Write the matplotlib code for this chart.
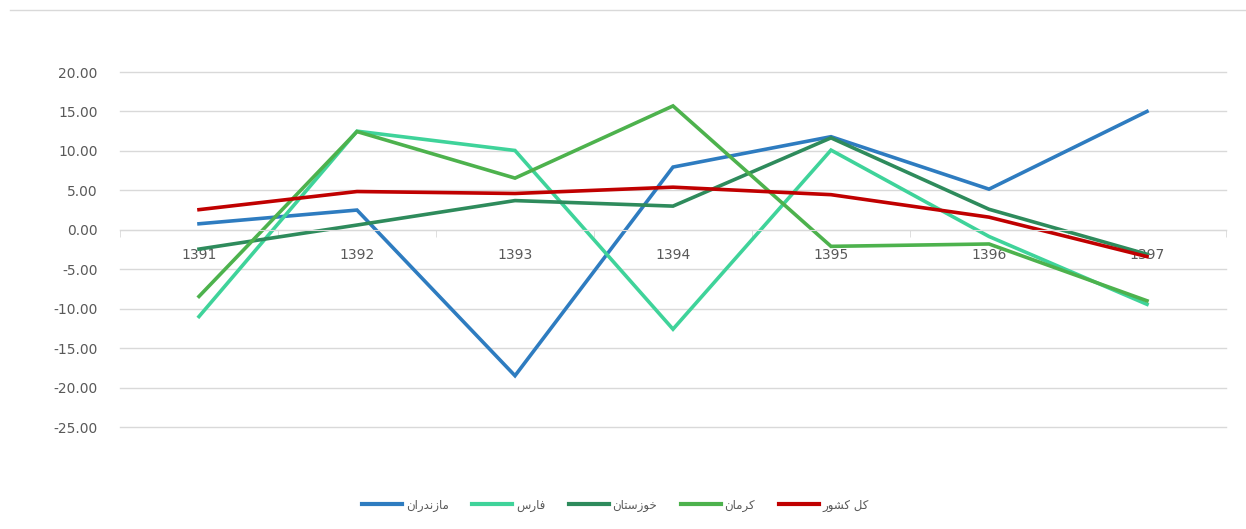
import matplotlib.pyplot as plt
from matplotlib.lines import Line2D

# years on the category axis
years = ["1391", "1392", "1393", "1394", "1395", "1396", "1397"]

# Persian series names, stored as pre-shaped glyphs in visual (left-to-right) order
# since matplotlib does no Arabic shaping / bidi
name_mazandaran = "\uFEE5\uFE8D\uFEAD\uFEAA\uFEE7\uFEAF\uFE8E\uFEE3"   # مازندران
name_fars = "\uFEB1\uFEAD\uFE8E\uFED3"                                # فارس
name_khuzestan = "\uFEE5\uFE8E\uFE98\uFEB3\uFEAF\uFEEE\uFEA7"         # خوزستان
name_kerman = "\uFEE5\uFE8E\uFEE3\uFEAE\uFEDB"                        # کرمان
name_total = "\uFEAD\uFEEE\uFEB8\uFEDB \uFEDE\uFEDB"                  # کل کشور

mazandaran = [0.76, 2.5, -18.5, 7.95, 11.8, 5.15, 15.0]
fars = [-11.0, 12.5, 10.05, -12.6, 10.1, -0.85, -9.45]
khuzestan = [-2.45, 0.6, 3.7, 3.0, 11.65, 2.6, -3.1]
kerman = [-8.45, 12.45, 6.55, 15.7, -2.1, -1.8, -9.0]
total = [2.55, 4.85, 4.6, 5.4, 4.45, 1.6, -3.4]

series = [
    (name_mazandaran, mazandaran, "#2E7CC0"),
    (name_fars, fars, "#3FD39A"),
    (name_khuzestan, khuzestan, "#2E8B5C"),
    (name_kerman, kerman, "#4DB24D"),
    (name_total, total, "#C00000"),
]

grid_col = "#D9D9D9"
text_col = "#595959"

fig = plt.figure(figsize=(12.46, 5.29), dpi=100)
ax = fig.add_axes([120 / 1246, 1 - 427 / 529, 1106 / 1246, 355 / 529])

x = list(range(len(years)))
for name, vals, col in series:
    ax.plot(x, vals, color=col, linewidth=2.6, label=name, solid_joinstyle="miter")

ax.set_xlim(-0.5, len(years) - 0.5)
ax.set_ylim(-25, 20)
ax.set_yticks(range(-25, 21, 5))
ax.set_yticklabels([f"{v:.2f}" for v in range(-25, 21, 5)])
ax.grid(axis="y", color=grid_col, linewidth=1)
for gl in ax.get_ygridlines():
    gl.set_clip_on(False)
ax.set_axisbelow(True)

for s in ["top", "right", "left"]:
    ax.spines[s].set_visible(False)
ax.spines["bottom"].set_position(("data", 0))
ax.spines["bottom"].set_color(grid_col)

ax.set_xticks(x)
ax.set_xticklabels(years)
ax.set_xticks([i - 0.5 for i in range(len(years) + 1)], minor=True)
ax.tick_params(axis="x", which="major", length=0, pad=13, labelsize=10, labelcolor=text_col)
ax.tick_params(axis="x", which="minor", length=5, color=grid_col, direction="out")
ax.tick_params(axis="y", length=0, pad=16, labelsize=10, labelcolor=text_col)

# thin frame line at the top of the chart area
fig.add_artist(Line2D([10 / 1246, 1], [1 - 10 / 529, 1 - 10 / 529],
                      transform=fig.transFigure, color=grid_col, linewidth=1))

leg = fig.legend(loc="center", bbox_to_anchor=(0.494, 1 - 505 / 529), ncol=5,
                 frameon=False, fontsize=8.5, handlelength=3.4, handletextpad=0.3,
                 columnspacing=2.0)
for t in leg.get_texts():
    t.set_color(text_col)
for h in leg.legend_handles:
    h.set_linewidth(3)

fig.savefig("out.png", dpi=100)
